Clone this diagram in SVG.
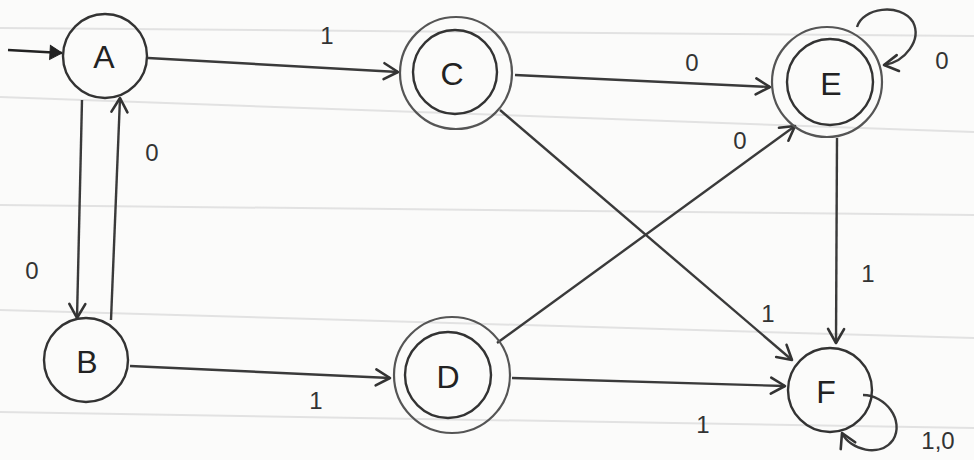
<svg xmlns="http://www.w3.org/2000/svg" width="974" height="460" viewBox="0 0 974 460">
<defs>
<marker id="arr" markerUnits="userSpaceOnUse" markerWidth="24" markerHeight="24" refX="20" refY="12" orient="auto">
<path d="M6,4 L20,12 L6,20" fill="none" stroke="#333" stroke-width="2.6" stroke-linecap="round" stroke-linejoin="round"/>
</marker>
<marker id="init" markerUnits="userSpaceOnUse" markerWidth="20" markerHeight="20" refX="16" refY="10" orient="auto">
<path d="M4,3 L16,10 L4,17 Z" fill="#222" stroke="#222" stroke-width="1"/>
</marker>
<style>
.st{fill:none;stroke:#333;stroke-width:2.4;}
.st2{fill:none;stroke:#555;stroke-width:2.2;}
.node text{font-family:"Liberation Sans",Arial,sans-serif;font-size:32px;fill:#222;text-anchor:middle;dominant-baseline:central;}
.lbl{font-family:"Liberation Sans",Arial,sans-serif;font-size:24px;fill:#333;text-anchor:middle;dominant-baseline:central;}
.edge{fill:none;stroke:#3a3a3a;stroke-width:2.4;marker-end:url(#arr);}
.rule{stroke:#e2e2e2;stroke-width:2;}
</style>
</defs>
<rect width="974" height="460" fill="#fbfbfa"/>
<g id="paper">
<line class="rule" x1="0" y1="28" x2="974" y2="36"/>
<line class="rule" x1="0" y1="97" x2="974" y2="132"/>
<line class="rule" x1="0" y1="205" x2="974" y2="215"/>
<line class="rule" x1="0" y1="310" x2="974" y2="338"/>
<line class="rule" x1="0" y1="412" x2="974" y2="428"/>
</g>
<g id="connectors">
<line x1="8" y1="50" x2="62" y2="53" stroke="#222" stroke-width="2.6" marker-end="url(#init)"/>
<line class="edge" x1="82" y1="100" x2="77" y2="318"/>
<line class="edge" x1="111" y1="320" x2="120" y2="98"/>
<line class="edge" x1="148" y1="58" x2="398" y2="72"/>
<line class="edge" x1="515" y1="75" x2="770" y2="87"/>
<line class="edge" x1="500" y1="110" x2="792" y2="360"/>
<line class="edge" x1="130" y1="366" x2="390" y2="378"/>
<line class="edge" x1="497" y1="343" x2="795" y2="126"/>
<line class="edge" x1="512" y1="378" x2="785" y2="386"/>
<line class="edge" x1="837" y1="138" x2="836" y2="343"/>
<path class="edge" d="M857,27 C862,8 900,2 913,22 C922,40 905,62 884,65"/>
<path class="edge" d="M863,395 C885,395 905,420 893,440 C880,458 850,450 842,433"/>
</g>
<g id="labels">
<text class="lbl" x="327" y="35">1</text>
<text class="lbl" x="152" y="152">0</text>
<text class="lbl" x="32" y="270">0</text>
<text class="lbl" x="692" y="62">0</text>
<text class="lbl" x="942" y="60">0</text>
<text class="lbl" x="740" y="140">0</text>
<text class="lbl" x="868" y="273">1</text>
<text class="lbl" x="768" y="313">1</text>
<text class="lbl" x="316" y="400">1</text>
<text class="lbl" x="703" y="424">1</text>
<text class="lbl" x="938" y="440">1,0</text>
</g>
<g id="A" class="node"><circle class="st" cx="105" cy="56" r="42"/><text x="104" y="57">A</text></g>
<g id="B" class="node"><circle class="st" cx="86" cy="360" r="42"/><text x="87" y="362">B</text></g>
<g id="C" class="node"><circle class="st2" cx="456" cy="73" r="56"/><circle class="st" cx="455" cy="72" r="42"/><text x="452" y="74">C</text></g>
<g id="D" class="node"><circle class="st2" cx="452" cy="375" r="58"/><circle class="st" cx="448" cy="375" r="43"/><text x="448" y="377">D</text></g>
<g id="E" class="node"><circle class="st2" cx="827" cy="82" r="55"/><circle class="st" cx="830" cy="82" r="43"/><text x="831" y="84">E</text></g>
<g id="F" class="node"><circle class="st" cx="830" cy="390" r="42"/><text x="826" y="392">F</text></g>
</svg>
